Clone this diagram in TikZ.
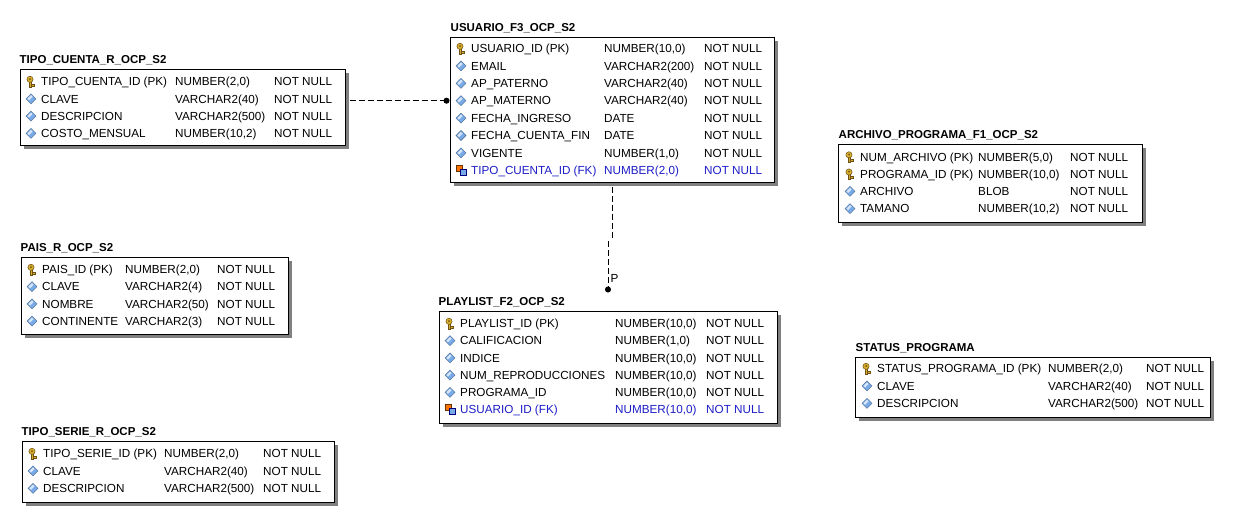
\documentclass[tikz,border=0pt]{standalone}
\usepackage{fontspec}
\setmainfont{Liberation Sans}
\usepackage{tikz}
\usetikzlibrary{arrows.meta,positioning,shadows}

\definecolor{fkblue}{RGB}{30,30,200}
\definecolor{attrblue}{RGB}{120,170,232}
\definecolor{keygold}{RGB}{215,175,45}
\definecolor{keybrown}{RGB}{110,80,20}

% icons in front of the columns
\tikzset{
	pics/attr/.style={code={
		\fill[attrblue] (-5,0) -- (0,-5) -- (5,0) -- (0,5) -- cycle;
		\fill[white,opacity=.7] (-3.6,0) -- (0,-3.6) -- (1.6,-2) -- (-2,1.6) -- cycle;
		\draw[attrblue!60!black,line width=.4pt] (-5,0) -- (0,-5) -- (5,0) -- (0,5) -- cycle;}},
	pics/pk/.style={code={
		\filldraw[fill=keygold,draw=keybrown,line width=.5pt] (-2.2,0) rectangle (0.2,5.5);
		\filldraw[fill=keygold,draw=keybrown,line width=.4pt] (0.2,2.4) rectangle (2.8,4.2);
		\filldraw[fill=keygold,draw=keybrown,line width=.5pt] (-1,-2.2) circle (3.1);
		\fill[keybrown] (-1,-2.5) circle (1);}},
	pics/fk/.style={code={
		\filldraw[fill=orange!90!red,draw=orange!40!black,line width=.4pt] (-5,-5) rectangle (1,1);
		\filldraw[fill=attrblue,draw=blue!50!black,line width=.4pt] (-1,-1) rectangle (5,5);}}
}

\begin{document}
\begin{tikzpicture}[x=1pt,y=-1pt,node distance=5pt,
		tbl/.style={draw,line width=1pt,fill=white,drop shadow={shadow xshift=4pt,shadow yshift=-4pt,fill=black!50,opacity=1}},
		title/.style={inner sep=0pt,font=\bfseries\fontsize{11.5}{13}\selectfont,text height=8.2pt,text depth=0pt},
		cell/.style={anchor=west,inner sep=0pt,font=\fontsize{11.7}{14}\selectfont,text height=8.4pt,text depth=0pt},
		pk/.style={},attr/.style={},fk/.style={text=fkblue},
		rel/.style={line width=1pt,dash pattern=on 6pt off 3pt,-{Circle[length=6pt]}}]
	\useasboundingbox (0,0) rectangle (1239,523);

	% TIPO_CUENTA
	\node[tbl,minimum width=325pt,minimum height=76pt] (tcBox) at (182.5,107) {};
	\node[title,above right=5pt and 0pt of tcBox.north west] (tcT) {TIPO\_CUENTA\_R\_OCP\_S2};
	\foreach \ic/\a/\b [count=\i] in {pk/TIPO\_CUENTA\_ID (PK)/{NUMBER(2,0)},attr/CLAVE/VARCHAR2(40),attr/DESCRIPCION/VARCHAR2(500),attr/COSTO\_MENSUAL/{NUMBER(10,2)}}{
		\pgfmathsetmacro\y{81.5+17.3*(\i-1)}
		\pic at (31,\y) {\ic};
		\node[cell,\ic] (tc\i) at (41,\y) {\a};
		\node[cell,\ic] (tc\i-t) at (175,\y) {\b};
		\node[cell,\ic] (tc\i-n) at (274,\y) {NOT NULL};
	}

	% USUARIO
	\node[tbl,minimum width=324pt,minimum height=145pt] (usBox) at (612,109.5) {};
	\node[title,above right=5pt and 1pt of usBox.north west] (usT) {USUARIO\_F3\_OCP\_S2};
	\foreach \ic/\a/\b [count=\i] in {pk/USUARIO\_ID (PK)/{NUMBER(10,0)},attr/EMAIL/VARCHAR2(200),attr/AP\_PATERNO/VARCHAR2(40),attr/AP\_MATERNO/VARCHAR2(40),attr/FECHA\_INGRESO/DATE,attr/FECHA\_CUENTA\_FIN/DATE,attr/VIGENTE/{NUMBER(1,0)},fk/TIPO\_CUENTA\_ID (FK)/{NUMBER(2,0)}}{
		\pgfmathsetmacro\y{48.5+17.4*(\i-1)}
		\pic at (461,\y) {\ic};
		\node[cell,\ic] (us\i) at (471,\y) {\a};
		\node[cell,\ic] (us\i-t) at (604,\y) {\b};
		\node[cell,\ic] (us\i-n) at (704,\y) {NOT NULL};
	}

	% PLAYLIST
	\node[tbl,minimum width=338pt,minimum height=112pt] (plBox) at (608,367) {};
	\node[title,above right=5pt and 0pt of plBox.north west] (plT) {PLAYLIST\_F2\_OCP\_S2};
	\foreach \ic/\a/\b [count=\i] in {pk/PLAYLIST\_ID (PK)/{NUMBER(10,0)},attr/CALIFICACION/{NUMBER(1,0)},attr/INDICE/{NUMBER(10,0)},attr/NUM\_REPRODUCCIONES/{NUMBER(10,0)},attr/PROGRAMA\_ID/{NUMBER(10,0)},fk/USUARIO\_ID (FK)/{NUMBER(10,0)}}{
		\pgfmathsetmacro\y{323.5+17.2*(\i-1)}
		\pic at (450,\y) {\ic};
		\node[cell,\ic] (pl\i) at (460,\y) {\a};
		\node[cell,\ic] (pl\i-t) at (615,\y) {\b};
		\node[cell,\ic] (pl\i-n) at (706,\y) {NOT NULL};
	}

	% ARCHIVO_PROGRAMA
	\node[tbl,minimum width=304pt,minimum height=78pt] (arBox) at (990,183) {};
	\node[title,above right=5pt and 1pt of arBox.north west] (arT) {ARCHIVO\_PROGRAMA\_F1\_OCP\_S2};
	\foreach \ic/\a/\b [count=\i] in {pk/NUM\_ARCHIVO (PK)/{NUMBER(5,0)},pk/PROGRAMA\_ID (PK)/{NUMBER(10,0)},attr/ARCHIVO/BLOB,attr/TAMANO/{NUMBER(10,2)}}{
		\pgfmathsetmacro\y{157+17.2*(\i-1)}
		\pic at (850,\y) {\ic};
		\node[cell,\ic] (ar\i) at (860,\y) {\a};
		\node[cell,\ic] (ar\i-t) at (978,\y) {\b};
		\node[cell,\ic] (ar\i-n) at (1070,\y) {NOT NULL};
	}

	% STATUS_PROGRAMA
	\node[tbl,minimum width=355pt,minimum height=60pt] (stBox) at (1032.5,387) {};
	\node[title,above right=5pt and 1pt of stBox.north west] (stT) {STATUS\_PROGRAMA};
	\foreach \ic/\a/\b [count=\i] in {pk/STATUS\_PROGRAMA\_ID (PK)/{NUMBER(2,0)},attr/CLAVE/VARCHAR2(40),attr/DESCRIPCION/VARCHAR2(500)}{
		\pgfmathsetmacro\y{368.5+17.4*(\i-1)}
		\pic at (867,\y) {\ic};
		\node[cell,\ic] (st\i) at (877,\y) {\a};
		\node[cell,\ic] (st\i-t) at (1048,\y) {\b};
		\node[cell,\ic] (st\i-n) at (1146,\y) {NOT NULL};
	}

	% PAIS
	\node[tbl,minimum width=267pt,minimum height=77pt] (paBox) at (154.5,295.5) {};
	\node[title,above right=5pt and 0pt of paBox.north west] (paT) {PAIS\_R\_OCP\_S2};
	\foreach \ic/\a/\b [count=\i] in {pk/PAIS\_ID (PK)/{NUMBER(2,0)},attr/CLAVE/VARCHAR2(4),attr/NOMBRE/VARCHAR2(50),attr/CONTINENTE/VARCHAR2(3)}{
		\pgfmathsetmacro\y{269.5+17.2*(\i-1)}
		\pic at (32,\y) {\ic};
		\node[cell,\ic] (pa\i) at (42,\y) {\a};
		\node[cell,\ic] (pa\i-t) at (125,\y) {\b};
		\node[cell,\ic] (pa\i-n) at (217,\y) {NOT NULL};
	}

	% TIPO_SERIE
	\node[tbl,minimum width=312pt,minimum height=61pt] (tsBox) at (178,471.5) {};
	\node[title,above right=5pt and 0pt of tsBox.north west] (tsT) {TIPO\_SERIE\_R\_OCP\_S2};
	\foreach \ic/\a/\b [count=\i] in {pk/TIPO\_SERIE\_ID (PK)/{NUMBER(2,0)},attr/CLAVE/VARCHAR2(40),attr/DESCRIPCION/VARCHAR2(500)}{
		\pgfmathsetmacro\y{453.5+17.4*(\i-1)}
		\pic at (33,\y) {\ic};
		\node[cell,\ic] (ts\i) at (43,\y) {\a};
		\node[cell,\ic] (ts\i-t) at (164,\y) {\b};
		\node[cell,\ic] (ts\i-n) at (263,\y) {NOT NULL};
	}

	% relations
	\draw[rel,shorten <=4pt] (tcBox.east |- us4) -- (usBox.west |- us4);
	\coordinate (plEnd) at ([yshift=18pt]plBox.north);
	\draw[rel,-,shorten <=4pt] (usBox.south) -- (usBox.south |- 0,240);
	\draw[rel] (plEnd |- 0,241) -- (plEnd) node[cell,pos=.72,xshift=2pt] (pLbl) {P};
\end{tikzpicture}
\end{document}
